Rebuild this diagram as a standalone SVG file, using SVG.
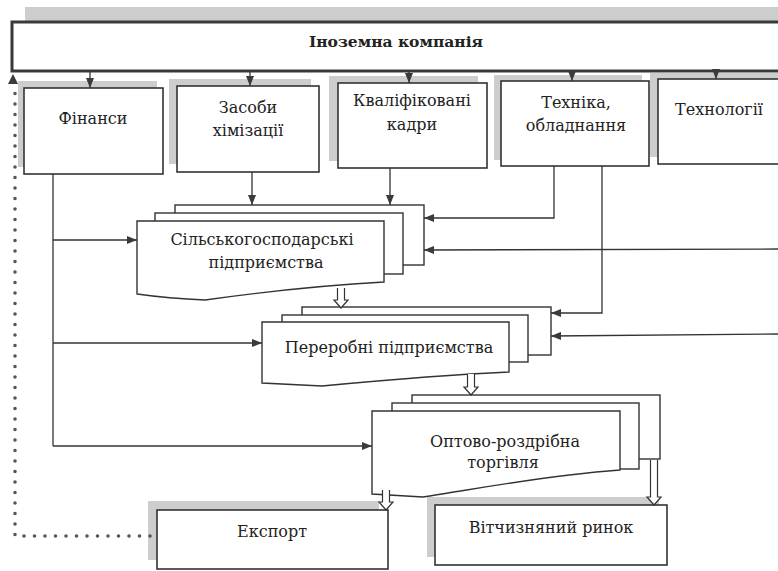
<svg xmlns="http://www.w3.org/2000/svg" width="778" height="571" viewBox="0 0 778 571">
<defs>
<style>
.bg{fill:#ffffff}
.box{fill:#ffffff;stroke:#333333;stroke-width:1.6}
.top{fill:#ffffff;stroke:#3a3a3a;stroke-width:3}
.sh{fill:#cdcdcd}
.pg{fill:#ffffff;stroke:#333333;stroke-width:1.4}
.t{font-family:"DejaVu Serif","Liberation Serif",serif;font-size:16px;fill:#222222;text-anchor:middle}
.tb{font-family:"DejaVu Serif","Liberation Serif",serif;font-size:15.5px;font-weight:bold;fill:#222222;text-anchor:middle}
.ln{fill:none;stroke:#333333;stroke-width:1.3}
.ho{fill:#ffffff;stroke:#333333;stroke-width:1.2}
.dot{fill:none;stroke:#555555;stroke-width:3.6;stroke-linecap:round;stroke-dasharray:0 10.5}
</style>
<marker id="ah" viewBox="0 0 10 8" refX="10" refY="4" markerWidth="10" markerHeight="8" markerUnits="userSpaceOnUse" orient="auto">
<path d="M0,0 L10,4 L0,8 Z" fill="#3a3a3a"/>
</marker>
</defs>
<rect class="bg" x="0" y="0" width="778" height="571"/>

<g id="company">
<rect class="sh" x="25" y="7" width="753" height="15"/>
<rect class="top" x="12" y="22" width="768" height="49"/>
<text class="tb" x="396" y="47">Іноземна компанія</text>
</g>

<g id="finance">
<rect class="sh" x="18" y="81" width="139" height="86"/>
<rect class="box" x="24" y="88" width="139" height="86"/>
<text class="t" x="93" y="124">Фінанси</text>
</g>

<g id="chemicals">
<rect class="sh" x="169" y="79" width="142" height="85"/>
<rect class="box" x="177" y="86" width="142" height="86"/>
<text class="t" x="248" y="113">Засоби</text>
<text class="t" x="248" y="136">хімізації</text>
</g>

<g id="staff">
<rect class="sh" x="329" y="76" width="149" height="85"/>
<rect class="box" x="338" y="83" width="149" height="85"/>
<text class="t" x="412" y="106">Кваліфіковані</text>
<text class="t" x="412" y="130">кадри</text>
</g>

<g id="equipment">
<rect class="sh" x="494" y="75" width="148" height="85"/>
<rect class="box" x="501" y="81" width="148" height="85"/>
<text class="t" x="576" y="108">Техніка,</text>
<text class="t" x="576" y="131">обладнання</text>
</g>

<g id="technology">
<rect class="sh" x="650" y="73" width="130" height="84"/>
<rect class="box" x="658" y="79" width="130" height="85"/>
<text class="t" x="719" y="115">Технології</text>
</g>

<g id="agri">
<rect class="pg" x="175" y="205" width="249" height="60"/>
<rect class="pg" x="155" y="213" width="248" height="61"/>
<path class="pg" d="M137,221 L384,221 L384,282 C 310,286 255,293 205,300 C 180,299 158,297 137,294 Z"/>
<text class="t" x="262" y="245">Сільськогосподарські</text>
<text class="t" x="266" y="268">підприємства</text>
</g>

<g id="processing">
<rect class="pg" x="302" y="307" width="249" height="48"/>
<rect class="pg" x="282" y="315" width="246" height="47"/>
<path class="pg" d="M262,322 L509,322 L509,372 C 440,375 375,381 322,386 C 300,385 280,384 262,383 Z"/>
<text class="t" x="389" y="353">Переробні підприємства</text>
</g>

<g id="trade">
<rect class="pg" x="412" y="395" width="248" height="64"/>
<rect class="pg" x="392" y="403" width="247" height="66"/>
<path class="pg" d="M372,411 L620,411 L620,470 C 540,476 470,490 423,497 C 405,496 388,495 372,494 Z"/>
<text class="t" x="505" y="447">Оптово-роздрібна</text>
<text class="t" x="503" y="468">торгівля</text>
</g>

<g id="export">
<rect class="sh" x="148" y="501" width="231" height="59"/>
<rect class="box" x="157" y="510" width="231" height="59"/>
<text class="t" x="272" y="537">Експорт</text>
</g>

<g id="domestic">
<rect class="sh" x="427" y="497" width="232" height="60"/>
<rect class="box" x="435" y="505" width="232" height="60"/>
<text class="t" x="551" y="533">Вітчизняний ринок</text>
</g>

<g id="connectors">
<line class="ln" x1="90" y1="72" x2="90" y2="88" marker-end="url(#ah)"/>
<line class="ln" x1="250" y1="72" x2="250" y2="86" marker-end="url(#ah)"/>
<line class="ln" x1="409" y1="72" x2="409" y2="83" marker-end="url(#ah)"/>
<line class="ln" x1="572" y1="72" x2="572" y2="81" marker-end="url(#ah)"/>
<line class="ln" x1="716" y1="72" x2="716" y2="79" marker-end="url(#ah)"/>

<line class="ln" x1="252" y1="172" x2="252" y2="205" marker-end="url(#ah)"/>
<line class="ln" x1="390" y1="168" x2="390" y2="205" marker-end="url(#ah)"/>

<polyline class="ln" points="554,166 554,218 424,218" marker-end="url(#ah)"/>
<polyline class="ln" points="602,166 602,313 551,313" marker-end="url(#ah)"/>
<line class="ln" x1="778" y1="249" x2="424" y2="250" marker-end="url(#ah)"/>
<line class="ln" x1="778" y1="334" x2="551" y2="336" marker-end="url(#ah)"/>

<line class="ln" x1="53" y1="174" x2="53" y2="446"/>
<line class="ln" x1="53" y1="240" x2="137" y2="240" marker-end="url(#ah)"/>
<line class="ln" x1="53" y1="343" x2="262" y2="343" marker-end="url(#ah)"/>
<line class="ln" x1="53" y1="446" x2="372" y2="446" marker-end="url(#ah)"/>

<path class="ho" d="M337.5,288 L337.5,300 L334,300 L341,308 L348,300 L344.5,300 L344.5,288"/>
<path class="ho" d="M467.5,374 L467.5,387 L464,387 L471,395 L478,387 L474.5,387 L474.5,374"/>
<path class="ho" d="M382.5,490 L382.5,502 L379,502 L386,510 L393,502 L389.5,502 L389.5,490"/>
<path class="ho" d="M650.5,460 L650.5,497 L647,497 L654,505 L661,497 L657.5,497 L657.5,460"/>

<polyline class="dot" points="150,536 15,536 15,88"/>
<path d="M13,74 L8,84 L18,84 Z" fill="#3a3a3a"/>
</g>
</svg>
